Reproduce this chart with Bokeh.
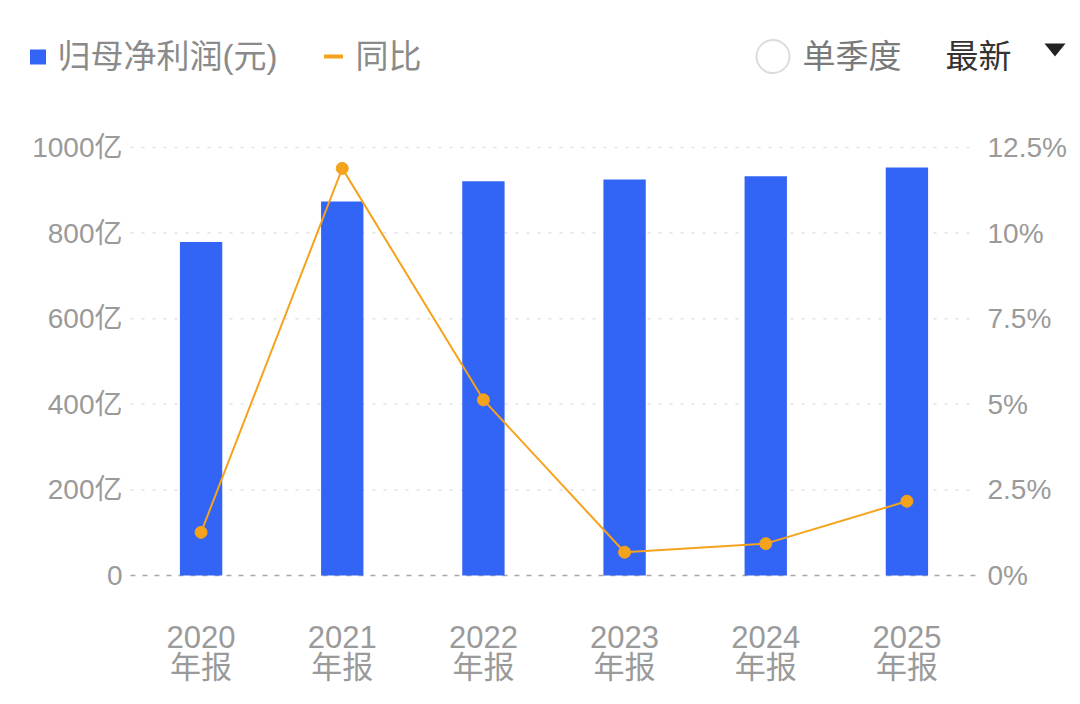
from bokeh.plotting import figure
from bokeh.models import Range1d
from bokeh.core.properties import value
from bokeh.embed import file_html
from bokeh.resources import INLINE

# ---------------- data ----------------
years = ["2020", "2021", "2022", "2023", "2024", "2025"]
year_suffix = "年报"
profit = [779, 874, 921, 925, 933, 953]          # 归母净利润 (亿元)
yoy = [1.26, 11.89, 5.13, 0.68, 0.93, 2.17]       # 同比 (%)
left_ticks = [0, 200, 400, 600, 800, 1000]
left_labels = ["0", "200亿", "400亿", "600亿", "800亿", "1000亿"]
right_ticks = [0, 2.5, 5, 7.5, 10, 12.5]
right_labels = ["0%", "2.5%", "5%", "7.5%", "10%", "12.5%"]
legend_bar = "归母净利润(元)"
legend_line = "同比"
toggle_label = "单季度"
sort_label = "最新"

FONT = value("Liberation Sans, Noto Sans CJK SC")
BLUE = "#3265f5"
ORANGE = "#f5a21c"
GRAY = "#9a9a9a"

# ---------------- layout (page pixels) ----------------
W, H = 1072, 696
FL, FR, FT, FB = 130, 977, 147, 575      # plotting area edges
n = len(years)
SW = (FR - FL) / n                        # px per category slot
KY = (FB - FT) / left_ticks[-1]           # px per 亿
PCT = right_ticks[-1] / left_ticks[-1]    # % per 亿 (dual-axis alignment)

xs = [i + 0.5 for i in range(n)]          # category slot centres

p = figure(width=W, height=H,
           x_range=Range1d(-FL / SW, (W - FL) / SW),
           y_range=Range1d(-(H - FB) / KY, FB / KY),
           output_backend="svg", toolbar_location=None, min_border=0,
           x_axis_location=None, y_axis_location=None)
p.outline_line_color = None
p.grid.visible = False
p.extra_y_ranges = {"pct": Range1d(-(H - FB) / KY * PCT, FB / KY * PCT),
                    "px": Range1d(H, 0)}
p.extra_x_ranges = {"px": Range1d(0, W)}

# grid lines
g = left_ticks[1:]
p.segment(x0=[0] * len(g), x1=[n] * len(g), y0=g, y1=g,
          line_color="#e2e2e2", line_dash="3 8", line_width=1.5)
p.segment(x0=[0], x1=[n], y0=[left_ticks[0]], y1=[left_ticks[0]],
          line_color="#a8a8a8", line_dash="5 7", line_width=1.5)

# bars
p.vbar(x=xs, top=profit, bottom=0, width=0.3, fill_color=BLUE, line_color=None)

# yoy line
p.line(x=xs, y=yoy, y_range_name="pct", line_color=ORANGE, line_width=2)
p.scatter(x=xs, y=yoy, y_range_name="pct", size=12, fill_color=ORANGE, line_color=ORANGE)

# left axis labels
p.text(x=[FL - 8] * len(left_ticks), y=left_ticks, text=left_labels, x_range_name="px",
       text_align="right", text_baseline="middle", text_font=FONT,
       text_font_size="28px", text_color=GRAY)
# right axis labels
p.text(x=[FR + 10] * len(right_ticks), y=right_ticks, text=right_labels, x_range_name="px",
       y_range_name="pct", text_align="left", text_baseline="middle", text_font=FONT,
       text_font_size="28px", text_color=GRAY)
# category labels (two lines)
p.text(x=xs, y=[636] * n, text=years, y_range_name="px",
       text_align="center", text_baseline="middle", text_font=FONT,
       text_font_size="31px", text_color=GRAY)
p.text(x=xs, y=[667] * n, text=[year_suffix] * n, y_range_name="px",
       text_align="center", text_baseline="middle", text_font=FONT,
       text_font_size="31px", text_color=GRAY)

# ---------------- header ----------------
hk = dict(x_range_name="px", y_range_name="px")
p.rect(x=[37.5], y=[56.5], width=16, height=15, fill_color=BLUE, line_color=None, **hk)
p.text(x=[57], y=[56], text=[legend_bar], text_font=FONT, text_font_size="33px",
       text_color="#8a8a8a", text_align="left", text_baseline="middle", **hk)
p.rect(x=[333], y=[56], width=19, height=4, fill_color=ORANGE, line_color=None, **hk)
p.text(x=[355], y=[56], text=[legend_line], text_font=FONT, text_font_size="33px",
       text_color="#8a8a8a", text_align="left", text_baseline="middle", **hk)

p.scatter(x=[772.5], y=[56], size=33, marker="circle", fill_color="white",
          line_color="#dcdcdc", line_width=2, **hk)
p.text(x=[802], y=[56], text=[toggle_label], text_font=FONT, text_font_size="33px",
       text_color="#7a7a7a", text_align="left", text_baseline="middle", **hk)
p.text(x=[945], y=[56], text=[sort_label], text_font=FONT, text_font_size="33px",
       text_color="#333333", text_align="left", text_baseline="middle", **hk)
p.patch(x=[1044, 1065, 1054.5], y=[43, 43, 56], fill_color="#222222", line_color=None, **hk)

open("out.html", "w").write(file_html(p, INLINE))
